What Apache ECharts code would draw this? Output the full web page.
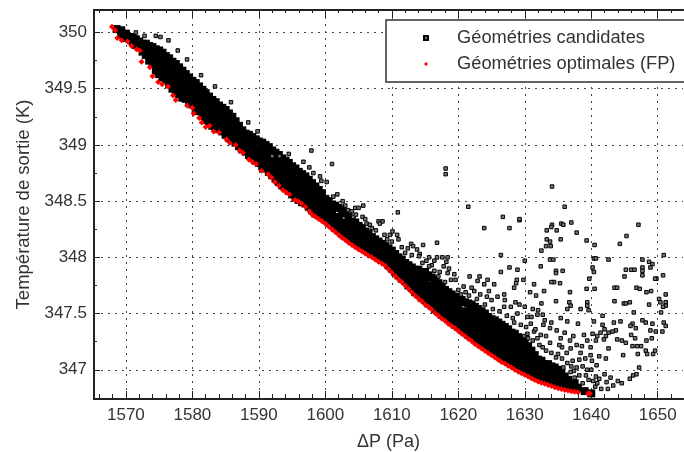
<!DOCTYPE html>
<html><head><meta charset="utf-8">
<style>html,body{margin:0;padding:0;background:#fff}#c{width:684px;height:452px}</style>
<script src="https://cdn.jsdelivr.net/npm/echarts@6/dist/echarts.min.js"></script>
</head><body><div id="c"></div>
<script>
const xTicks=[1570,1580,1590,1600,1610,1620,1630,1640,1650];
const xMinorTicks=[1566,1568,1572,1574,1576,1578,1582,1584,1586,1588,1592,1594,1596,1598,1602,1604,1606,1608,1612,1614,1616,1618,1622,1624,1626,1628,1632,1634,1636,1638,1642,1644,1646,1648,1652];
const yTicks=[347,347.5,348,348.5,349,349.5,350];
const yMinorTicks=[346.75,347.25,347.75,348.25,348.75,349.25,349.75];
const nameCandidates='Géométries candidates';
const nameOptimal='Géométries optimales (FP)';

// Dense part of the candidate cloud: each row is a dP value followed by the temperatures read at it
const candidateColumns=[
[1568.6,350.03],[1569.3,349.98,350.02],[1570,349.95,349.99],[1571,349.92,349.96],[1572,349.87,349.92],[1573,349.8,349.86,349.9],
[1574,349.72,349.78,349.84,349.87],[1575,349.63,349.69,349.75,349.81,349.84],[1576,349.58,349.64,349.7,349.75,349.79],
[1577,349.5,349.56,349.62,349.68,349.74],[1578,349.45,349.51,349.57,349.63,349.69],[1579,349.41,349.47,349.53,349.58,349.63],
[1580,349.36,349.42,349.48,349.53,349.57],[1581,349.3,349.36,349.42,349.47,349.52],[1582,349.22,349.28,349.34,349.4,349.46],
[1583,349.17,349.23,349.29,349.35,349.4],[1584,349.14,349.2,349.26,349.32,349.35],[1585,349.09,349.15,349.21,349.27,349.31],
[1586,349.04,349.1,349.16,349.22,349.25],[1587,348.99,349.05,349.11,349.17],[1588,348.94,349,349.06,349.1],
[1589,348.89,348.95,349.01,349.07],[1590,348.84,348.9,348.96,349.03],[1591,348.79,348.85,348.91,348.97,349],
[1592,348.73,348.79,348.85,348.91,348.95],[1593,348.67,348.73,348.79,348.85,348.91],[1594,348.62,348.68,348.74,348.8,348.86],
[1595,348.56,348.62,348.68,348.74,348.81],[1596,348.51,348.57,348.63,348.69,348.76],[1597,348.48,348.54,348.6,348.66,348.72],
[1598,348.42,348.48,348.54,348.6,348.66],[1599,348.38,348.44,348.5,348.55,348.6],[1600,348.34,348.4,348.46,348.52],
[1601,348.29,348.35,348.41,348.47],[1602,348.24,348.3,348.36,348.44],[1603,348.19,348.25,348.31,348.39],
[1604,348.15,348.21,348.27,348.33],[1605,348.11,348.17,348.23,348.28],[1606,348.07,348.13,348.19,348.23],
[1607,348.04,348.1,348.14,348.18],[1608,348,348.06,348.1,348.14],[1609,347.96,348.02,348.06,348.1],[1610,347.9,347.96,348.02,348.06],
[1611,347.84,347.9,347.96,348],[1612,347.79,347.85,347.91,347.95],[1613,347.73,347.79,347.85,347.91],
[1614,347.67,347.73,347.79,347.85,347.89],[1615,347.62,347.68,347.74,347.8,347.87],[1616,347.57,347.63,347.69,347.75,347.82],
[1617,347.52,347.58,347.64,347.7,347.77],[1618,347.47,347.53,347.59,347.65,347.71],[1619,347.43,347.49,347.55,347.61,347.67],
[1620,347.38,347.44,347.5,347.56,347.63],[1621,347.34,347.4,347.46,347.52,347.6],[1622,347.29,347.35,347.41,347.47,347.53,347.58],
[1623,347.25,347.31,347.37,347.43,347.49,347.54],[1624,347.21,347.27,347.33,347.39,347.45,347.5],
[1625,347.17,347.23,347.29,347.35,347.41,347.45],[1626,347.13,347.19,347.25,347.31,347.37,347.42],
[1627,347.09,347.15,347.21,347.27,347.33,347.38],[1628,347.06,347.12,347.18,347.24,347.29,347.33],[1629,347.02,347.08,347.14,347.2,347.25,347.29],
[1630,346.99,347.05,347.11,347.17,347.21,347.25],[1631,346.96,347.02,347.08,347.13,347.17],[1632,346.93,346.99,347.05,347.09],
[1633,346.91,346.97,347.02,347.05],[1634,346.89,346.95,347,347.03],[1635,346.87,346.93,346.97,347],[1636,346.86,346.9,346.94],[1637,346.85,346.87],
[1638,346.84],[1639,346.81],[1640,346.79],
[1570.5,349.95],[1571.5,349.89,349.94],[1572.5,349.83,349.9],[1573.5,349.75,349.88],[1574.5,349.66,349.85],[1575.5,349.6,349.82],[1576.5,349.54,349.77],[1577.5,349.47,349.72],[1578.5,349.42,349.66],[1579.5,349.38,349.6],[1580.5,349.32,349.55],[1581.5,349.26,349.49],[1582.5,349.2,349.43],[1583.5,349.15,349.38],[1584.5,349.12,349.33],[1585.5,349.06,349.28],[1586.5,349.02,349.21],[1587.5,348.96,349.13],[1588.5,348.91,349.09],[1589.5,348.86,349.05],[1590.5,348.81,349.02],[1591.5,348.76,348.98],[1592.5,348.7,348.93],[1593.5,348.64,348.88],[1594.5,348.59,348.84],[1595.5,348.53,348.79],[1596.5,348.49,348.74],[1597.5,348.45,348.69],[1598.5,348.39,348.63],[1599.5,348.36,348.57],[1600.5,348.31,348.5],[1601.5,348.26,348.46],[1602.5,348.21,348.42],[1603.5,348.17,348.36],[1604.5,348.13,348.31],[1605.5,348.09,348.26],[1606.5,348.05,348.21],[1607.5,348.02,348.16],[1608.5,347.98,348.12],[1609.5,347.93,348.08],[1610.5,347.87,348.03],[1611.5,347.81,347.98],[1612.5,347.75,347.93],[1613.5,347.69,347.89],[1614.5,347.64,347.86],[1615.5,347.59,347.84],[1616.5,347.54,347.8],[1617.5,347.49,347.74],[1618.5,347.45,347.69],[1619.5,347.4,347.65],[1620.5,347.36,347.62],[1621.5,347.31,347.59],[1622.5,347.27,347.56],[1623.5,347.23,347.52],[1624.5,347.19,347.47],[1625.5,347.15,347.44],[1626.5,347.11,347.4],[1627.5,347.07,347.36],[1628.5,347.04,347.32],[1629.5,347,347.27],[1630.5,346.97,347.21],[1631.5,346.94,347.13],[1632.5,346.92,347.08],[1633.5,346.9,347.05],[1634.5,346.88,347.02],[1635.5,346.86,346.98],[1636.5,346.85,346.91],[1637.5,346.84,346.88]
];

const candidatePoints=[
[1571.5,350],[1572.8,349.97],[1574.5,349.97],[1575.2,349.96],[1576.4,349.93],[1577.8,349.84],[1579.2,349.76],[1581.3,349.62],[1583.4,349.52],[1585.8,349.38],[1588.4,349.2],[1589.8,349.12],
[1597.9,348.95],[1601,348.83],[1594.5,348.92],[1593.1,348.9],[1592,348.9],[1596.7,348.85],[1597.6,348.8],[1598.2,348.75],[1599.2,348.72],[1600.2,348.67],[1601.8,348.56],[1601.2,348.54],[1599.4,348.68],
[1618.1,348.79],[1618.1,348.74],[1634.1,348.63],[1621.5,348.45],[1610.9,348.4],[1626.7,348.36],[1629.2,348.33],[1629.2,348.34],[1636,348.45],[1634.1,348.29],[1635.5,348.3],[1635.8,348.29],[1637,348.31],[1647.1,348.29],
[1605.7,348.46],[1604.5,348.44],[1605,348.44],[1608,348.32],[1608.6,348.32],[1608.2,348.3],[1606.2,348.3],[1606.7,348.29],[1603.4,348.42],[1604.2,348.36],[1604.6,348.38],[1605.6,348.36],[1606,348.34],
[1623.9,348.26],[1627.7,348.26],[1637.8,348.22],[1645.3,348.19],[1633.3,348.24],[1634.8,348.24],[1634,348.27],[1635.4,348.16],[1633.3,348.16],[1633.8,348.14],[1639.3,348.15],[1644.3,348.12],[1640.5,348.11],[1633.9,348.1],[1633.2,348.1],[1632.5,348.06],
[1616.8,348.13],[1614.7,348.11],[1612.9,348.12],[1613.2,348.1],[1610.1,348.23],[1609.7,348.2],[1610.8,348.2],[1611,348.16],[1610,348.14],[1611.5,348.09],[1612.4,348.08],[1613.8,348.07],[1614.2,348.03],[1614.1,348.01],[1615.6,348],[1616.8,348],[1617.6,348],[1618.4,348],[1615.2,347.97],[1616.4,347.97],[1618.2,347.96],[1616,347.93],[1617.8,347.92],[1618.6,347.9],[1619.4,347.85],[1618.4,347.86],[1617.2,347.87],[1616.4,347.88],[1619.6,347.8],[1618.9,347.8],
[1626.4,348.02],[1630,347.97],[1633.8,347.98],[1634.3,347.98],[1640.4,347.99],[1640.7,347.99],[1642.6,347.98],[1647.7,347.98],[1650.9,348.02],[1648.7,347.96],[1649.2,347.94],[1632.4,347.92],[1627.7,347.91],[1628.9,347.89],[1626.4,347.87],[1634.7,347.88],[1634.7,347.86],[1635.7,347.88],[1640.2,347.91],[1640.4,347.87],[1645.2,347.89],[1646,347.89],[1646.5,347.89],[1647.7,347.91],[1647.7,347.88],[1647.7,347.84],[1648.9,347.91],[1645,347.83],[1650.8,347.84],[1649.8,347.81],[1649.6,347.81],[1639.7,347.81],[1634.4,347.78],[1634,347.78],[1635.3,347.77],
[1629.8,347.8],[1628.8,347.8],[1628.7,347.77],[1628.4,347.73],[1631.4,347.76],[1625.4,347.76],[1621.7,347.83],[1623.2,347.83],[1624.4,347.8],[1622.9,347.79],[1623.9,347.76],[1632.9,347.7],[1636.8,347.69],[1639.3,347.72],[1640.5,347.72],[1643.5,347.73],[1643.9,347.73],[1646.8,347.73],[1647.3,347.72],[1649,347.7],[1648.3,347.69],[1630.8,347.69],[1631.7,347.66],[1632.5,347.59],[1634.7,347.61],[1636.7,347.6],[1639.4,347.6],[1643.5,347.61],[1644.9,347.59],[1645.2,347.59],[1645.8,347.6],[1648.7,347.58],[1650.2,347.63],[1651.2,347.67],[1650.4,347.6],[1651.2,347.6],[1651.2,347.57],[1650.8,347.56],
[1638.4,347.54],[1636.9,347.57],[1636.4,347.54],[1639.4,347.57],[1639.6,347.53],[1629.2,347.58],[1626.9,347.67],[1625.9,347.65],[1627.9,347.56],[1626.9,347.56],[1620,347.71],[1620.4,347.67],[1621.1,347.69],[1622.4,347.7],[1623.3,347.67],[1624.3,347.65],[1625,347.62],[1628.9,347.5],[1630.4,347.47],[1631.9,347.49],[1631,347.47],
[1646.4,347.51],[1650.5,347.51],[1641.7,347.48],[1635.4,347.46],[1632.7,347.49],[1638,347.41],[1640.4,347.43],[1643.4,347.42],[1644.4,347.43],[1646.2,347.41],[1647.7,347.44],[1648.2,347.42],[1649.2,347.41],[1650.9,347.42],[1651.2,347.39],[1650.7,347.34],[1649.7,347.34],[1648.9,347.35],[1646.7,347.37],[1645.9,347.39],[1643.7,347.35],[1643.2,347.34],[1641.7,347.4],[1642,347.36],[1641.4,347.33],[1640.9,347.3],[1640.2,347.32],[1639.4,347.26],[1640.7,347.26],[1639.9,347.2],
[1642.6,347.33],[1642.2,347.3],[1641.9,347.27],[1643.9,347.27],[1644.6,347.26],[1646,347.31],[1646.6,347.28],[1645.2,347.24],[1646.2,347.21],[1646.9,347.21],[1647.5,347.21],[1648.3,347.26],[1649.1,347.28],[1648.2,347.17],[1649.3,347.14],[1649.6,347.17],[1642.6,347.19],[1644.8,347.13],[1641.2,347.12],[1642.2,347.1],[1647,347.14],[1647.2,347.02],[1648.4,347.14],
[1632.8,347.4],[1633.8,347.37],[1634.8,347.35],[1636,347.33],[1637.3,347.3],[1635.4,347.28],[1637.8,347.22],[1638.6,347.21],[1636.9,347.19],[1634,347.42],[1636.4,347.43],[1633.2,347.3],[1632.4,347.31],[1631.4,347.34],[1630.4,347.32],[1628.4,347.42],[1629.4,347.4],[1630.9,347.41],[1632.2,347.22],[1633.8,347.24],[1635.6,347.2],[1635,347.14],[1636.3,347.15],[1638.4,347.15],[1639.1,347.1],[1640.1,347.08],[1640.8,347.04],[1637.8,347.02],[1637.4,346.99],[1638.2,346.95],[1640,347],
[1642.9,346.93],[1644,346.9],[1644.6,346.88],[1646.3,346.95],[1646.8,346.96],[1645.8,346.92],[1642,346.96],[1642.3,346.89],[1641.5,346.83],[1642.5,346.83],[1643.3,346.86],[1641.2,346.92],[1639.6,346.91],[1640.3,346.9],[1640.6,346.85],[1638.7,346.88],
[1629.9,347.3],[1630.5,347.28],[1631.2,347.26],[1631.9,347.28],[1632.7,347.2],[1633.2,347.17],[1634,347.15],[1634.7,347.11],[1635.6,347.1],[1636.4,347.06],[1637.2,347.08],[1637,347.03],[1638.7,347.03],[1639.4,347],[1639.2,346.95],[1640.7,346.94],[1640.9,346.88],[1637.5,346.93],[1636.9,346.98],[1635.8,347.02],[1638.2,347.09],[1639.9,347.13],[1635.2,347.22],[1636.8,347.26],[1638.9,347.31],[1633,347.44],[1631.6,347.36],[1630.2,347.38],[1628.2,347.46],[1626.2,347.52],[1627.3,347.48],[1625.2,347.54],[1624,347.58],[1622.8,347.63],[1621.6,347.66],
[1603,348.46],[1602.6,348.5],[1604,348.41],[1607,348.26],[1607.6,348.24],[1608.9,348.2],[1609.3,348.16],[1612,348.04],[1613,348.02],[1614.6,347.95],[1615.6,347.92],[1617,347.83],[1618,347.78],[1620.8,347.74],[1622,347.73],[1624.6,347.7],[1627,347.62],[1628.6,347.6],[1630,347.56],[1631.2,347.54],[1632,347.53]
];

const optimalPoints=[
[1567.9,350.05],[1568.4,350.02],[1568.7,349.95],[1569.35,349.93],[1570.25,349.92],[1570.85,349.88],[1571.6,349.85],[1572.1,349.84],[1572.35,349.74],[1573.6,349.69],[1574,349.61],[1574.85,349.56],[1575.45,349.54],[1576.35,349.52],[1577.1,349.44],[1577.5,349.4],[1579.2,349.35],[1580,349.33],[1580.2,349.28],[1581,349.24],[1581.4,349.2],[1582,349.16],[1582.6,349.17],[1583.2,349.12],[1584,349.11],[1585.1,349.05],[1585.6,349.02],[1586.5,349],[1587.1,348.95],[1587.6,348.93],[1588.5,348.87],[1589,348.85],[1589.6,348.83],[1590.4,348.77],[1591.4,348.74],[1591.9,348.71],[1592.4,348.67],[1593,348.64],[1593.6,348.6],[1594.1,348.58],[1594.6,348.56],[1595.4,348.51],[1595.9,348.5],[1596.4,348.48],[1597,348.45],[1597.6,348.41],
[1598,348.38],[1598.5,348.36],[1599,348.34],[1599.5,348.32],[1600,348.3],[1600.5,348.275],[1601,348.25],[1601.5,348.225],[1602,348.2],[1602.5,348.175],[1603,348.155],[1603.5,348.13],[1604,348.11],[1604.5,348.09],[1605,348.07],[1605.5,348.055],[1606,348.035],[1606.5,348.015],[1607,348],[1607.5,347.98],[1608,347.96],[1608.5,347.945],[1609,347.925],[1609.5,347.895],[1610,347.865],[1610.5,347.835],[1611,347.805],[1611.5,347.78],[1612,347.75],[1612.5,347.72],[1613,347.69],[1613.5,347.66],[1614,347.635],[1614.5,347.61],[1615,347.58],[1615.5,347.56],[1616,347.535],[1616.5,347.505],[1617,347.48],[1617.5,347.455],[1618,347.435],[1618.5,347.41],[1619,347.39],[1619.5,347.37],[1620,347.345],[1620.5,347.32],[1621,347.3],[1621.5,347.275],[1622,347.255],[1622.5,347.23],[1623,347.21],[1623.5,347.19],[1624,347.17],[1624.5,347.15],[1625,347.13],[1625.5,347.11],[1626,347.09],[1626.5,347.07],[1627,347.055],[1627.5,347.035],[1628,347.02],[1628.5,347],[1629,346.985],[1629.5,346.97],[1630,346.955],[1630.5,346.94],[1631,346.925],[1631.5,346.91],[1632,346.895],[1632.5,346.885],[1633,346.875],[1633.5,346.865],[1634,346.855],[1634.5,346.845],[1635,346.835],[1635.5,346.83],[1636,346.82],[1636.5,346.815],[1637,346.81],[1637.5,346.805],[1638,346.8],[1639.5,346.79],[1639.8,346.79]
];

const densePoints=[];
candidateColumns.forEach(c=>{for(let i=1;i<c.length;i++)densePoints.push([c[0],c[i]]);});

const axisColor='#222', textColor='#333', font='"Liberation Sans", Arial, sans-serif';
const xRange={min:1565.2,max:1653.8}, yRange={min:346.74,max:350.2};
const line={show:true,onZero:false,lineStyle:{color:axisColor,width:2}};
const plain=v=>String(v);
function xAxisOf(position,values,len,extra){
  return Object.assign({type:'value',position,...xRange,axisLine:line,
    axisTick:{show:true,inside:true,length:len,customValues:values,lineStyle:{color:axisColor,width:1}},
    axisLabel:{show:false},splitLine:{show:false},minorTick:{show:false}},extra||{});
}
const grid={left:94,right:1,top:10,bottom:53,outerBoundsMode:'none'};
const chart=echarts.init(document.getElementById('c'),null,{renderer:'canvas'});
chart.setOption({
  animation:false,
  backgroundColor:'#fff',
  grid,
  legend:{
    show:true,left:386,top:20,orient:'vertical',
    data:[nameCandidates,nameOptimal],
    backgroundColor:'#fff',borderColor:'#333',borderWidth:1.5,
    padding:[9,16,9,37],itemWidth:4,itemHeight:4,itemGap:8,
    textStyle:{color:textColor,fontFamily:font,fontSize:18.3,padding:[0,0,0,24]}
  },
  xAxis:[
    xAxisOf('bottom',xTicks,8,{
      name:'ΔP (Pa)',nameLocation:'middle',nameGap:34,
      nameTextStyle:{color:textColor,fontFamily:font,fontSize:18},
      axisLabel:{show:true,customValues:xTicks,formatter:plain,color:textColor,fontFamily:font,fontSize:17,margin:8},
      splitLine:{show:true,lineStyle:{color:'#444',type:[2,5],width:1}}
    }),
    xAxisOf('bottom',xMinorTicks,5),
    xAxisOf('top',xTicks,7),
    xAxisOf('top',xMinorTicks,3)
  ],
  yAxis:[
    {type:'value',position:'left',...yRange,axisLine:line,
      axisTick:{show:true,inside:true,length:6,customValues:yTicks,lineStyle:{color:axisColor,width:1}},
      axisLabel:{show:true,customValues:yTicks,formatter:plain,color:textColor,fontFamily:font,fontSize:17,margin:7},
      name:'Température de sortie (K)',nameLocation:'middle',nameGap:60,nameRotate:90,
      nameTextStyle:{color:textColor,fontFamily:font,fontSize:18.5},
      splitLine:{show:true,lineStyle:{color:'#444',type:[2,5],width:1}}},
    {type:'value',position:'left',...yRange,axisLine:line,
      axisTick:{show:true,inside:true,length:3,customValues:yMinorTicks,lineStyle:{color:axisColor,width:1}},
      axisLabel:{show:false},splitLine:{show:false}}
  ],
  series:[
    {name:nameCandidates,type:'scatter',symbol:'rect',symbolSize:3.5,data:candidatePoints,z:3,silent:true,
      itemStyle:{color:'#777',borderColor:'#000',borderWidth:1,opacity:1}},
    {name:nameCandidates,type:'scatter',symbol:'rect',symbolSize:8,data:densePoints,z:2,silent:true,
      itemStyle:{color:'#000',opacity:1}},
    {name:nameOptimal,type:'scatter',symbol:'diamond',symbolSize:6,data:optimalPoints,z:4,silent:true,
      itemStyle:{color:'#f00',opacity:1}}
  ]
});
</script></body></html>
